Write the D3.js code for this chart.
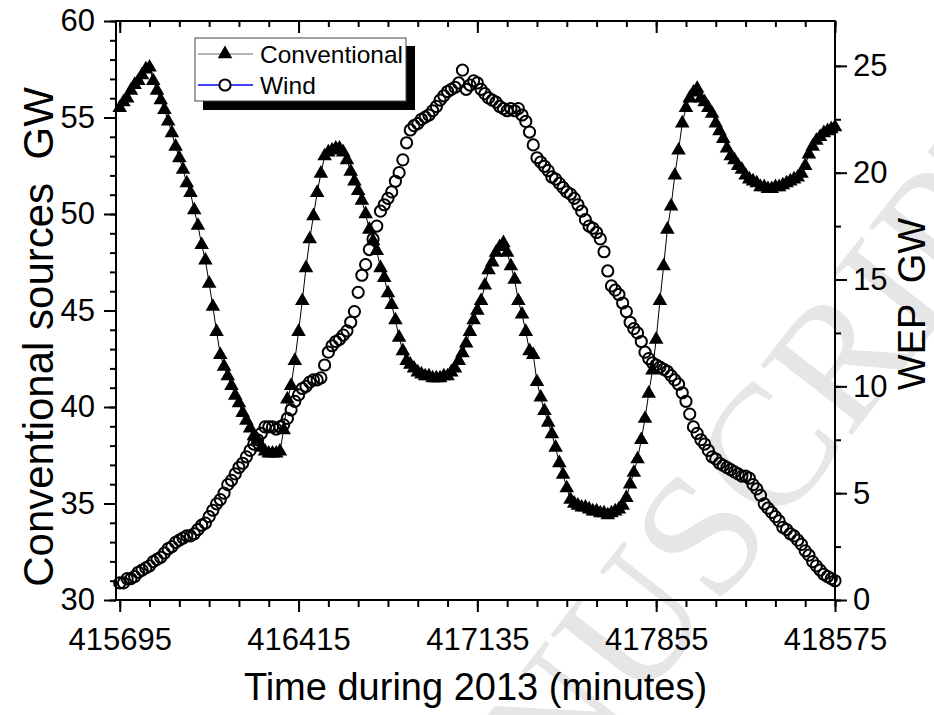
<!DOCTYPE html>
<html>
<head>
<meta charset="utf-8">
<style>
    body { margin: 0; background: #fff; }
    svg { display: block; font-family: 'Liberation Sans', Arial, sans-serif; }
    .axis path, .axis line { stroke: #000; stroke-width: 2; }
    .axis text { font-size: 31px; fill: #000; }
</style>
</head>
<body>
<svg width="934" height="715"></svg>

<script src="https://d3js.org/d3.v7.min.js"></script>
<script>
    // samples every 15 minutes starting at 415695
    const startMinute = 415695
    const stepMinutes = 15

    const conventional = [
        55.5, 55.8, 56.0, 56.4, 56.7, 56.9, 57.2, 57.5, 57.6, 56.9,
        56.4, 55.9, 55.4, 54.8, 54.2, 53.5, 52.9, 52.3, 51.6, 51.1,
        50.2, 49.4, 48.4, 47.6, 46.4, 45.2, 43.9, 42.7, 42.1, 41.6,
        41.1, 40.6, 40.2, 39.7, 39.3, 38.9, 38.5, 38.3, 37.9, 37.7,
        37.6, 37.6, 37.6, 37.7, 38.8, 40.4, 41.1, 42.4, 43.9, 45.5,
        47.2, 48.7, 49.9, 51.1, 52.1, 53.0, 53.2, 53.3, 53.4, 53.4,
        53.2, 52.8, 52.2, 51.7, 51.2, 50.7, 50.0, 49.2, 48.6, 48.1,
        47.2, 46.7, 45.9, 45.3, 44.5, 43.6, 42.9, 42.4, 42.2, 42.0,
        41.8, 41.7, 41.6, 41.6, 41.5, 41.5, 41.5, 41.6, 41.6, 41.8,
        42.0, 42.4, 42.8, 43.3, 43.9, 44.5, 45.0, 45.5, 46.3, 47.1,
        47.5, 48.0, 48.3, 48.5, 48.0, 47.3, 46.6, 45.5, 44.8, 43.9,
        42.9, 42.7, 41.3, 40.5, 39.8, 39.2, 38.6, 37.9, 37.1, 36.5,
        35.8, 35.2, 35.0, 34.9, 34.8, 34.8, 34.7, 34.6, 34.6, 34.5,
        34.5, 34.4, 34.5, 34.6, 34.7, 34.9, 35.3, 36.0, 36.6, 37.3,
        38.3, 39.4, 40.7, 41.9, 43.5, 45.5, 47.3, 49.2, 50.4, 52.0,
        53.3, 54.7, 55.5, 56.0, 56.3, 56.5, 56.0, 55.8, 55.5, 55.2,
        54.7, 54.3, 53.9, 53.4, 53.0, 52.8, 52.5, 52.3, 52.0, 51.8,
        51.7, 51.6, 51.4, 51.4, 51.3, 51.3, 51.4, 51.4, 51.5, 51.6,
        51.7, 51.8, 51.9, 52.1, 52.5, 53.1, 53.5, 53.8, 54.0, 54.2,
        54.3, 54.4, 54.5
    ]

    const wind = [
        0.8, 0.8, 1.0, 1.0, 1.1, 1.3, 1.4, 1.5, 1.6, 1.8,
        1.9, 2.0, 2.2, 2.4, 2.5, 2.7, 2.8, 2.9, 3.0, 3.0,
        3.1, 3.3, 3.5, 3.6, 3.9, 4.2, 4.5, 4.7, 5.0, 5.4,
        5.6, 5.9, 6.2, 6.4, 6.7, 7.0, 7.3, 7.5, 7.8, 8.1,
        8.1, 8.1, 8.0, 8.1, 8.2, 8.5, 8.9, 9.3, 9.6, 9.9,
        10.0, 10.2, 10.3, 10.3, 10.4, 11.0, 11.6, 11.9, 12.1, 12.2,
        12.4, 12.6, 13.0, 13.5, 14.4, 15.2, 15.7, 16.4, 16.9, 17.5,
        18.2, 18.5, 18.8, 19.1, 19.6, 20.0, 20.6, 21.4, 22.0, 22.2,
        22.3, 22.5, 22.6, 22.7, 22.9, 23.1, 23.4, 23.6, 23.8, 23.9,
        24.0, 24.2, 24.8, 23.9, 24.1, 24.3, 24.2, 23.9, 23.7, 23.5,
        23.4, 23.3, 23.1, 23.0, 22.9, 23.0, 22.9, 23.0, 22.7, 22.4,
        21.9, 21.3, 20.7, 20.5, 20.3, 20.1, 19.8, 19.7, 19.5, 19.3,
        19.1, 19.0, 18.8, 18.5, 18.2, 17.8, 17.5, 17.4, 17.2, 16.9,
        16.3, 15.4, 14.7, 14.5, 14.3, 13.9, 13.5, 13.0, 12.7, 12.5,
        12.1, 11.6, 11.3, 11.1, 11.0, 10.9, 10.8, 10.7, 10.5, 10.3,
        10.1, 9.7, 9.3, 8.7, 8.1, 7.8, 7.5, 7.3, 7.0, 6.7,
        6.6, 6.4, 6.3, 6.2, 6.1, 6.0, 5.9, 5.8, 5.8, 5.7,
        5.4, 5.2, 4.9, 4.5, 4.3, 4.1, 3.9, 3.7, 3.4, 3.3,
        3.1, 3.0, 2.8, 2.6, 2.3, 2.1, 1.8, 1.6, 1.4, 1.2,
        1.1, 1.0, 0.9
    ]

    const xTicks = [415695, 416415, 417135, 417855, 418575]
    const leftTicks = [30, 35, 40, 45, 50, 55, 60]
    const rightTicks = [0, 5, 10, 15, 20, 25]

    const times = conventional.map((d, i) => startMinute + i * stepMinutes)

    let svg = d3.select("svg")

    let plotLeft = 116, plotRight = 835, plotTop = 21, plotBottom = 600

    let x = d3.scaleLinear().domain([415680, 418575]).range([plotLeft, plotRight])
    let yL = d3.scaleLinear().domain([30, 60]).range([plotBottom, plotTop])
    let yR = d3.scaleLinear().domain([0, 27.1]).range([plotBottom, plotTop])

    // faint watermark
    svg.append("text")
        .attr("transform", "translate(387,1030) rotate(-52)")
        .attr("font-family", "'Liberation Serif', 'DejaVu Serif', serif")
        .attr("font-size", 175)
        .attr("fill", "#e6e6e6")
        .text("MANUSCRIPT")

    // minor ticks
    let xMinor = d3.range(415695, 418576, 120)
    let lMinor = d3.range(30, 61, 1)
    let rMinor = d3.range(0, 27, 2.5)

    svg.append("g").attr("class", "axis")
        .attr("transform", `translate(0,${plotBottom})`)
        .call(d3.axisBottom(x).tickValues(xMinor).tickSize(7).tickFormat(""))
    svg.append("g").attr("class", "axis")
        .attr("transform", `translate(0,${plotTop})`)
        .call(d3.axisTop(x).tickValues(xMinor).tickSize(-6).tickFormat(""))
    svg.append("g").attr("class", "axis")
        .attr("transform", `translate(${plotLeft},0)`)
        .call(d3.axisLeft(yL).tickValues(lMinor).tickSize(6).tickFormat(""))
    svg.append("g").attr("class", "axis")
        .attr("transform", `translate(${plotRight},0)`)
        .call(d3.axisRight(yR).tickValues(rMinor).tickSize(6).tickFormat(""))

    // major ticks + labels
    svg.append("g").attr("class", "axis")
        .attr("transform", `translate(0,${plotBottom})`)
        .call(d3.axisBottom(x).tickValues(xTicks).tickSize(12).tickPadding(16).tickFormat(d3.format("d")))
    svg.append("g").attr("class", "axis")
        .attr("transform", `translate(0,${plotTop})`)
        .call(d3.axisTop(x).tickValues(xTicks).tickSize(-12).tickFormat(""))
    svg.append("g").attr("class", "axis")
        .attr("transform", `translate(${plotLeft},0)`)
        .call(d3.axisLeft(yL).tickValues(leftTicks).tickSize(12).tickPadding(9))
    svg.append("g").attr("class", "axis")
        .attr("transform", `translate(${plotRight},0)`)
        .call(d3.axisRight(yR).tickValues(rightTicks).tickSize(12).tickPadding(6))

    svg.selectAll(".axis .domain").remove()

    // frame
    svg.append("rect")
        .attr("x", plotLeft).attr("y", plotTop)
        .attr("width", plotRight - plotLeft).attr("height", plotBottom - plotTop)
        .attr("fill", "none").attr("stroke", "#000").attr("stroke-width", 2)

    // conventional line + triangles
    let convLine = d3.line()
        .x((d, i) => x(times[i]))
        .y(d => yL(d))

    svg.append("path")
        .datum(conventional)
        .attr("d", convLine)
        .attr("fill", "none")
        .attr("stroke", "#000")
        .attr("stroke-width", 1)

    let tri = d3.symbol().type(d3.symbolTriangle).size(92)

    svg.selectAll(".conv")
        .data(conventional)
        .join("path")
        .attr("class", "conv")
        .attr("d", tri)
        .attr("transform", (d, i) => `translate(${x(times[i])},${yL(d)})`)
        .attr("fill", "#000")

    // wind circles
    svg.selectAll(".wind")
        .data(wind)
        .join("circle")
        .attr("class", "wind")
        .attr("cx", (d, i) => x(times[i]))
        .attr("cy", d => yR(d))
        .attr("r", 5.6)
        .attr("fill", "none")
        .attr("stroke", "#000")
        .attr("stroke-width", 2)

    // legend
    let legend = svg.append("g")
    legend.append("rect").attr("x", 203).attr("y", 46).attr("width", 212).attr("height", 64).attr("fill", "#000")
    legend.append("rect").attr("x", 195).attr("y", 38).attr("width", 211).attr("height", 63)
        .attr("fill", "#fff").attr("stroke", "#444").attr("stroke-width", 1)

    legend.append("line").attr("x1", 198).attr("x2", 253).attr("y1", 54).attr("y2", 54)
        .attr("stroke", "#666").attr("stroke-width", 1)
    legend.append("path").attr("d", tri).attr("transform", "translate(225,54)").attr("fill", "#000")
    legend.append("text").attr("x", 260).attr("y", 63).attr("font-size", 24.5).text("Conventional")

    legend.append("line").attr("x1", 198).attr("x2", 253).attr("y1", 85).attr("y2", 85)
        .attr("stroke", "#0000ff").attr("stroke-width", 1.5)
    legend.append("circle").attr("cx", 225).attr("cy", 85).attr("r", 5.6)
        .attr("fill", "#fff").attr("stroke", "#000").attr("stroke-width", 2)
    legend.append("text").attr("x", 260).attr("y", 94).attr("font-size", 24.5).text("Wind")

    // axis titles
    svg.append("text")
        .attr("x", (plotLeft + plotRight) / 2).attr("y", 700)
        .attr("text-anchor", "middle").attr("font-size", 38)
        .text("Time during 2013 (minutes)")

    svg.append("text")
        .attr("transform", "translate(53,337) rotate(-90)")
        .attr("text-anchor", "middle").attr("font-size", 42)
        .attr("xml:space", "preserve")
        .text("Conventional sources  GW")

    svg.append("text")
        .attr("transform", "translate(925,304) rotate(-90)")
        .attr("text-anchor", "middle").attr("font-size", 38)
        .attr("xml:space", "preserve")
        .text("WEP  GW")
</script>
</body>
</html>
